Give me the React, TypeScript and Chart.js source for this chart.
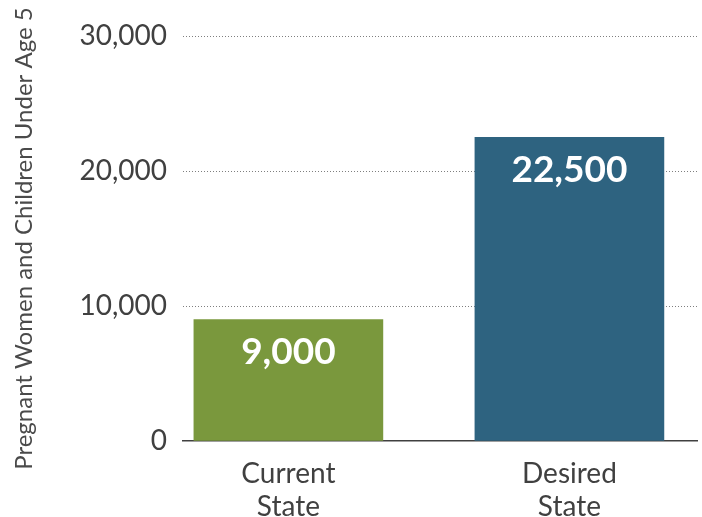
import { useEffect, useRef } from 'react';
import { Chart, registerables } from 'chart.js';
Chart.register(...registerables);

const categories = [['Current', 'State'], ['Desired', 'State']];
const values = [9000, 22500];
const barColors = ['#7a983d', '#2e6380'];
const yTicks = [0, 10000, 20000, 30000];
const yTitle = 'Pregnant Women and Children Under Age 5';

const FONT = 'Lato, "Noto Sans", sans-serif';
const TEXT = '#404040';

export default function App() {
  const ref = useRef<HTMLCanvasElement>(null);
  useEffect(() => {
    const labelPlugin = {
      id: 'valueLabels',
      afterDatasetsDraw(chart: any) {
        const ctx = chart.ctx;
        const meta = chart.getDatasetMeta(0);
        ctx.save();
        ctx.fillStyle = '#ffffff';
        ctx.font = `bold 37px ${FONT}`;
        ctx.textAlign = 'center';
        ctx.textBaseline = 'middle';
        meta.data.forEach((el: any, i: number) => {
          ctx.fillText(values[i].toLocaleString('en-US'), el.x, el.y + 33);
        });
        ctx.restore();
      },
    };
    const chart = new Chart(ref.current as HTMLCanvasElement, {
      type: 'bar',
      data: {
        datasets: [
          {
            data: values.map((v, i) => ({ x: i, y: v })) as any,
            backgroundColor: barColors,
            barThickness: 189,
            borderWidth: 0,
          },
        ],
      },
      options: {
        animation: false,
        responsive: false,
        layout: { padding: { top: 36, right: 5, left: 0, bottom: 0 } },
        plugins: { legend: { display: false }, tooltip: { enabled: false } },
        scales: {
          x: {
            type: 'linear',
            offset: false,
            bounds: 'ticks',
            min: -0.375,
            max: 1.454,
            afterBuildTicks: (s: any) => {
              s.ticks = categories.map((_, i) => ({ value: i }));
            },
            afterFit: (s: any) => {
              s.height = 76;
            },
            grid: { display: false },
            border: { display: true, color: '#404040', width: 1.5 },
            ticks: {
              callback: (v: any) => categories[v] ?? '',
              font: { family: FONT, size: 28 },
              color: TEXT,
              padding: 8,
              maxRotation: 0,
              autoSkip: false,
            },
          },
          y: {
            min: 0,
            max: 30000,
            afterBuildTicks: (s: any) => {
              s.ticks = yTicks.map((v) => ({ value: v }));
            },
            afterFit: (s: any) => {
              s.width = 183;
            },
            grid: {
              color: (c: any) => (c.tick && c.tick.value === 0 ? 'rgba(0,0,0,0)' : '#7f7f7f'),
              drawTicks: false,
              lineWidth: 1,
            },
            border: { display: false, dash: [1, 2] },
            ticks: {
              font: { family: FONT, size: 28 },
              color: TEXT,
              padding: 16,
              callback: (v: any) => Number(v).toLocaleString('en-US'),
            },
            title: {
              display: true,
              text: yTitle,
              font: { family: FONT, size: 24 },
              color: '#4a4a4a',
              padding: { top: 10, bottom: 0 },
            },
          },
        },
      } as any,
      plugins: [labelPlugin],
    });
    return () => chart.destroy();
  }, []);
  return (
    <div style={{ position: 'fixed', left: 0, top: 0, width: 702, height: 517, background: '#fff' }}>
      <canvas ref={ref} width={702} height={517} style={{ display: 'block' }} />
    </div>
  );
}
